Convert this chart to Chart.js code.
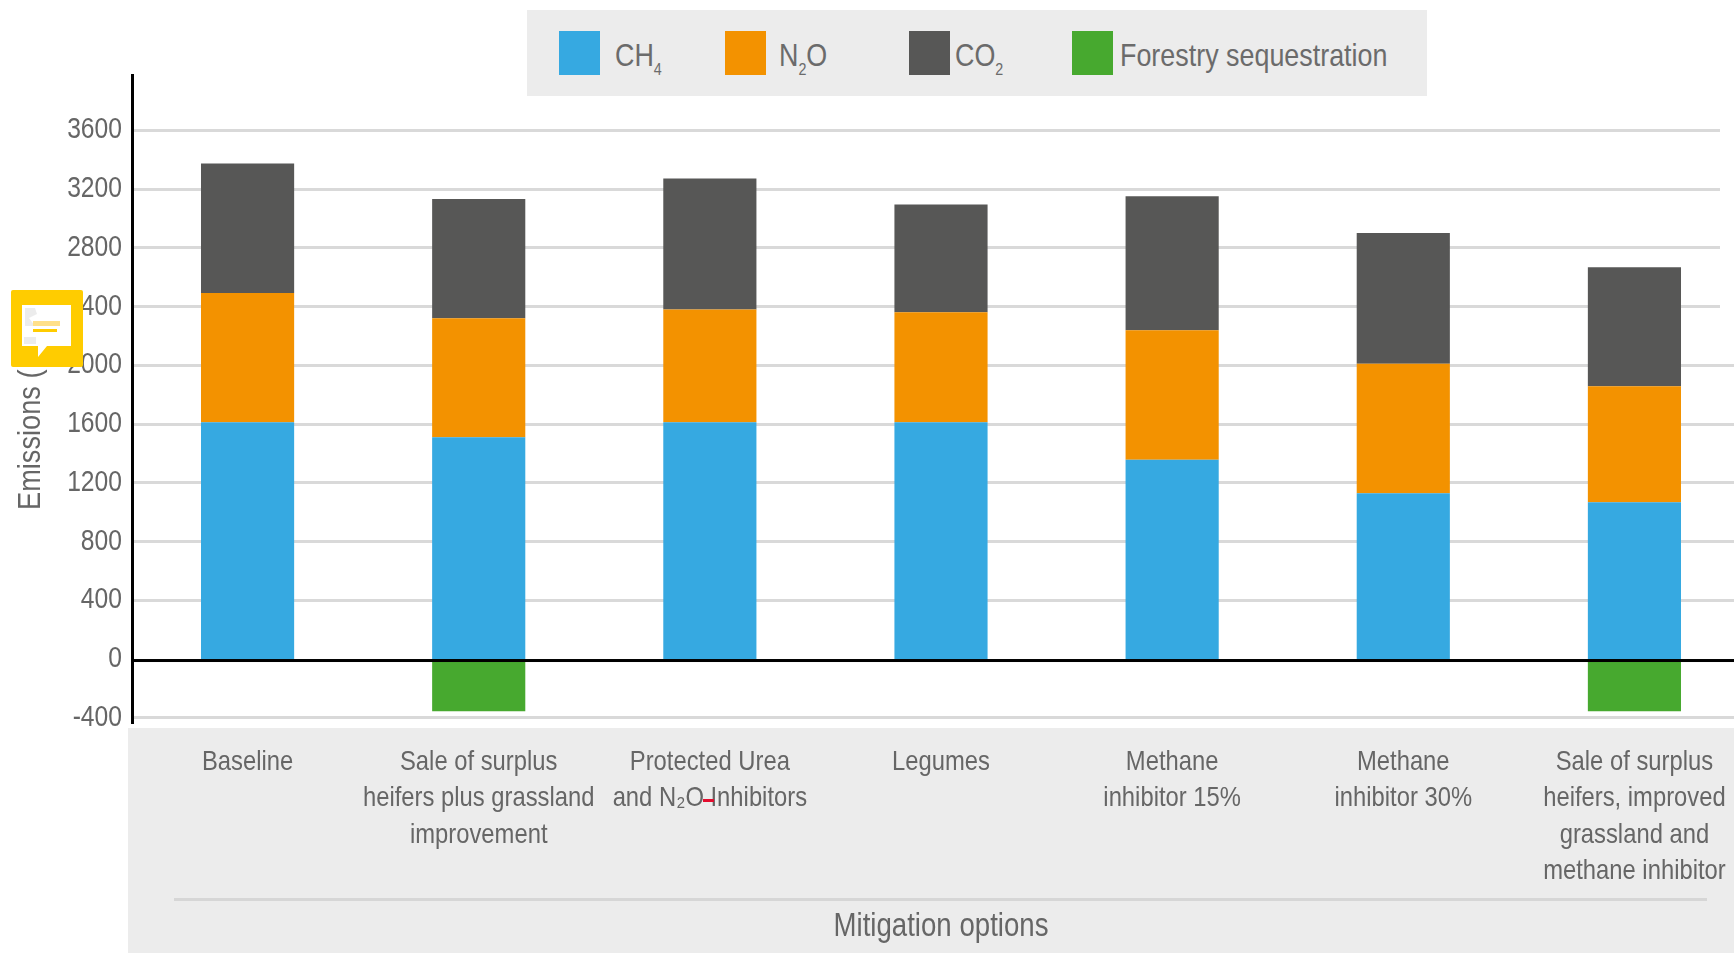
<!DOCTYPE html>
<html lang="en">
<head>
<meta charset="utf-8">
<title>Emissions by mitigation option</title>
<script src="https://cdn.jsdelivr.net/npm/chart.js@4"></script>
<style>
  html, body { margin: 0; background: #fff; overflow: hidden; }
  #wrap { position: relative; width: 1734px; height: 953px; overflow: hidden; }
  #Chart { position: absolute; left: 0; top: 0; }
  #legend { position: absolute; left: 527px; top: 10px; width: 900px; height: 86px; background: #ececec; }
  .swatch { position: absolute; top: 21px; width: 41px; height: 44px; }
  .entry { position: absolute; top: 23px; white-space: nowrap; color: #6b6b6b;
           font: 32px/44px "Liberation Sans", sans-serif;
           transform: scaleX(0.84); transform-origin: left center; }
  .entry sub { font-size: 17px; line-height: 0; vertical-align: -9px; }
  #note { position: absolute; left: 11px; top: 290px; width: 72px; height: 77px; }
</style>
</head>
<body>
<div id="wrap">
  <canvas id="Chart" width="1753" height="953"></canvas>
  <div id="legend"></div>
  <svg id="note" viewBox="0 0 72 77">
    <rect width="72" height="77" rx="2" fill="#ffcc00"/>
    <path d="M11 15H60V56H36L27 67V56H11Z" fill="#fff"/>
    <path d="M14 18H24L26 24L18 28L24 36H14ZM13 47H25V54H13Z" fill="#ececec"/>
    <rect x="22" y="31" width="27" height="5" fill="#ffe08a"/>
    <rect x="22" y="39" width="24" height="3" fill="#ffcc00"/>
  </svg>
</div>
<script>
// Data
const categories = [
  ["Baseline"],
  ["Sale of surplus", "heifers plus grassland", "improvement"],
  ["Protected Urea", "and N₂O Inhibitors"],
  ["Legumes"],
  ["Methane", "inhibitor 15%"],
  ["Methane", "inhibitor 30%"],
  ["Sale of surplus", "heifers, improved", "grassland and", "methane inhibitor"]
];
const ch4 = [1612, 1510, 1612, 1612, 1358, 1129, 1067];
const n2o = [881, 811, 769, 750, 881, 883, 791];
const co2 = [882, 813, 892, 734, 913, 890, 810];
const forestry = [null, -355, null, null, null, null, -355];
const yTicks = [-400, 0, 400, 800, 1200, 1600, 2000, 2400, 2800, 3200, 3600];

const seriesColors = ["#36a9e1", "#f39200", "#575756", "#47a92f"];
const legendLabels = ["CH<sub>4</sub>", "N<sub>2</sub>O", "CO<sub>2</sub>", "Forestry sequestration"];
const legendSwatchX = [32, 198, 382, 545];
const legendTextX = [88, 252, 428, 593];

const fontFamily = "Liberation Sans";
const textColor = "#666666";
const condense = 0.85;

// Legend
const legendBox = document.getElementById("legend");
legendLabels.forEach((label, i) => {
  const swatch = document.createElement("div");
  swatch.className = "swatch";
  swatch.style.left = legendSwatchX[i] + "px";
  swatch.style.background = seriesColors[i];
  legendBox.appendChild(swatch);

  const entry = document.createElement("div");
  entry.className = "entry";
  entry.style.left = legendTextX[i] + "px";
  entry.innerHTML = label;
  legendBox.appendChild(entry);
});

// No condensed face is available, so squeeze all canvas text horizontally
const condensedTextPlugin = {
  id: "condensedText",
  beforeInit(chart) {
    const ctx = chart.ctx;
    const rawFillText = ctx.fillText.bind(ctx);
    ctx.fillText = (text, x, y) => {
      ctx.save();
      ctx.translate(x, y);
      ctx.scale(condense, 1);
      rawFillText(text, 0, 0);
      ctx.restore();
    };
  }
};

// Grey panel behind the category labels
const panelPlugin = {
  id: "panel",
  beforeDraw(chart) {
    const ctx = chart.ctx;
    ctx.save();
    ctx.fillStyle = "#ececec";
    ctx.fillRect(128, 728, chart.width - 128, chart.height - 728);
    ctx.fillStyle = "#d6d6d6";
    ctx.fillRect(174, 898, 1533, 3);
    ctx.restore();
  }
};

// Zero line over the bars, axis title and the small marks on top
const overlayPlugin = {
  id: "overlay",
  afterDraw(chart) {
    const ctx = chart.ctx;
    const zero = chart.scales.y.getPixelForValue(0);
    ctx.save();
    ctx.fillStyle = "#000";
    ctx.fillRect(chart.chartArea.left, zero, chart.chartArea.width, 3);

    // upper grid lines stop short of the edge
    ctx.fillStyle = "#fff";
    ctx.fillRect(1720, 100, 33, 215);

    ctx.fillStyle = "#e30d2e";
    ctx.fillRect(703, 799, 11, 3);

    ctx.translate(40, 510);
    ctx.rotate(-Math.PI / 2);
    ctx.fillStyle = textColor;
    ctx.font = `32px "${fontFamily}"`;
    ctx.textAlign = "left";
    ctx.textBaseline = "alphabetic";
    ctx.fillText("Emissions (", 0, 0);
    ctx.restore();
  }
};

new Chart(document.getElementById("Chart"), {
  type: "bar",
  data: {
    labels: categories,
    datasets: [
      { label: "CH4", data: ch4, backgroundColor: seriesColors[0] },
      { label: "N2O", data: n2o, backgroundColor: seriesColors[1] },
      { label: "CO2", data: co2, backgroundColor: seriesColors[2] },
      { label: "Forestry sequestration", data: forestry, backgroundColor: seriesColors[3] }
    ]
  },
  plugins: [condensedTextPlugin, panelPlugin, overlayPlugin],
  options: {
    responsive: false,
    animation: false,
    barPercentage: 0.403,
    categoryPercentage: 1,
    layout: { padding: { top: 75, right: 3, left: 0, bottom: 0 } },
    plugins: {
      legend: { display: false },
      tooltip: { enabled: false }
    },
    scales: {
      x: {
        stacked: true,
        afterFit(scale) {
          scale.height = 231;
          // labels are squeezed when drawn, so no room is needed for their full width
          scale.paddingLeft = 0;
          scale.paddingRight = 0;
        },
        grid: { display: false },
        border: { display: false },
        ticks: {
          autoSkip: false,
          maxRotation: 0,
          padding: 14,
          color: textColor,
          font: { family: fontFamily, size: 28, lineHeight: 1.3 }
        },
        title: {
          display: true,
          text: "Mitigation options",
          color: textColor,
          padding: { top: 0, bottom: 6 },
          font: { family: fontFamily, size: 32.5, lineHeight: 1.2 }
        }
      },
      y: {
        stacked: true,
        min: -429,
        max: 3978,
        afterFit(scale) { scale.width = 132; },
        afterBuildTicks(scale) { scale.ticks = yTicks.map((value) => ({ value })); },
        grid: {
          color: "#d9d9d9",
          // the zero line is drawn over the bars instead
          lineWidth: (ctx) => (ctx.tick && ctx.tick.value === 0 ? 0 : 3),
          drawTicks: false
        },
        border: { display: true, color: "#000", width: 3 },
        ticks: {
          padding: 10,
          color: textColor,
          font: { family: fontFamily, size: 29 },
          callback: (value) => String(value)
        }
      }
    }
  }
});
</script>
</body>
</html>
